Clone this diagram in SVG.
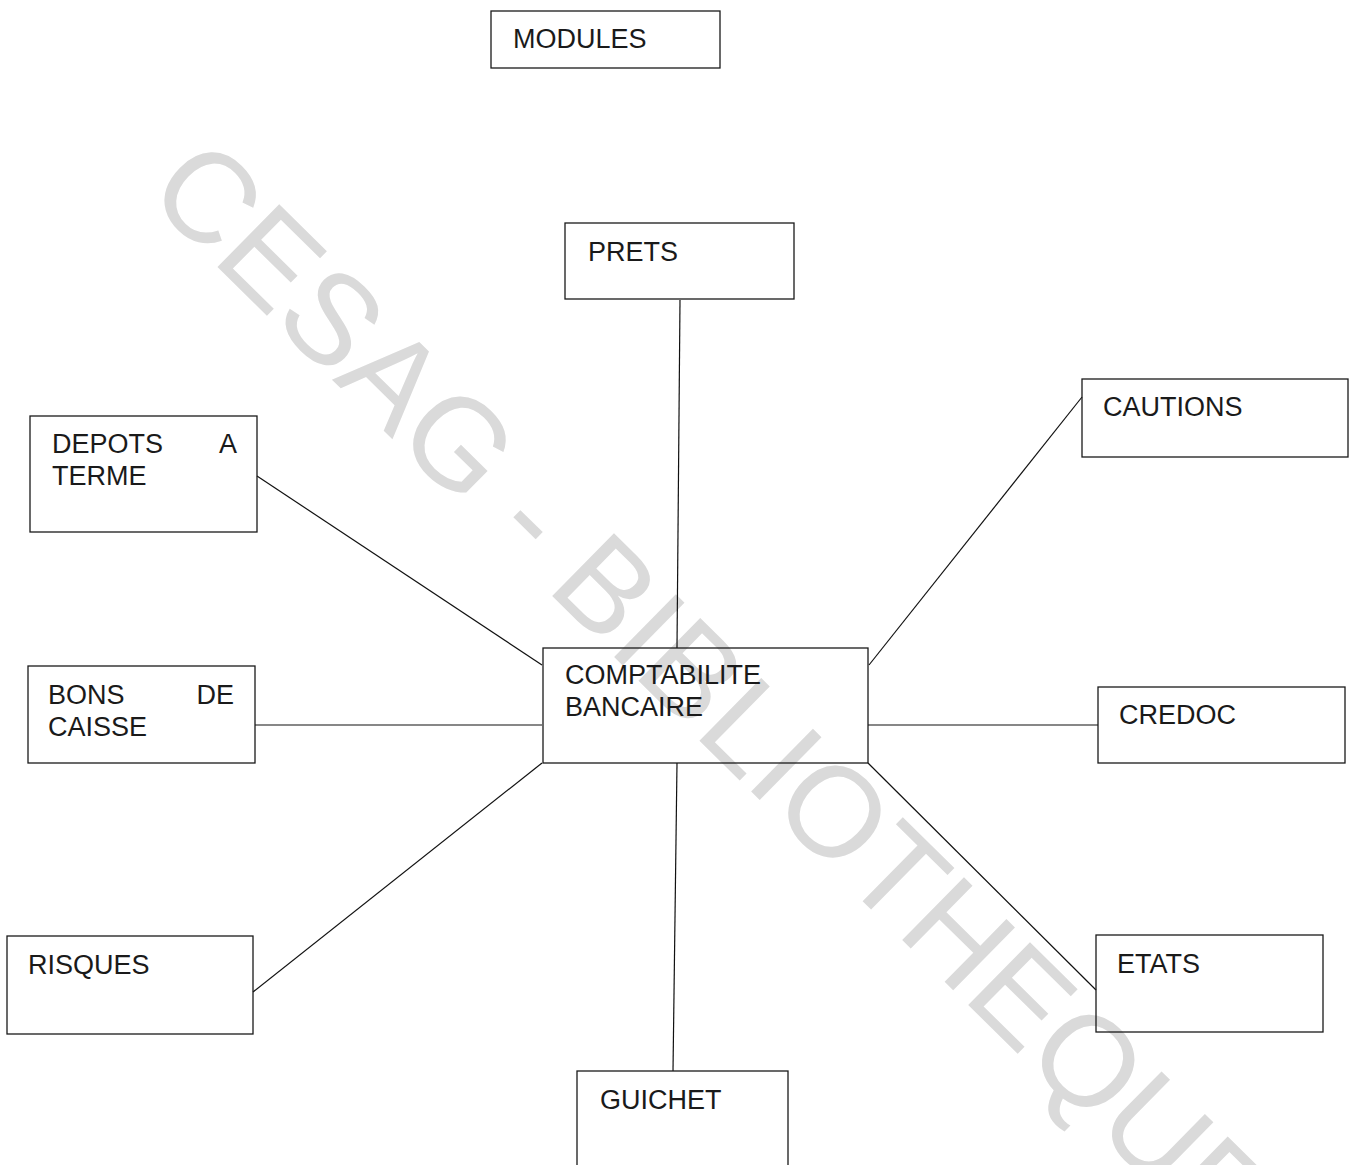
<svg xmlns="http://www.w3.org/2000/svg" width="1356" height="1165" viewBox="0 0 1356 1165">
<style>
.box{fill:none;stroke:#1a1a1a;stroke-width:1.3}
.lbl{font-family:"Liberation Sans",Arial,sans-serif;font-size:27px;fill:#1a1a1a}
.edge{stroke:#111;stroke-width:1.2;fill:none}
.wm{font-family:"Liberation Sans",Arial,sans-serif;font-size:128px;fill:#dadada}
</style>
<rect width="1356" height="1165" fill="#fff"/>
<text class="wm" transform="translate(144,195) rotate(44.5)">CESAG - BIBLIOTHEQUE</text>
<g id="connectors">
<line class="edge" x1="680" y1="300" x2="677" y2="648"/>
<line class="edge" x1="1082" y1="397" x2="869" y2="665"/>
<line class="edge" x1="257" y1="476" x2="542" y2="665"/>
<line class="edge" x1="255" y1="725" x2="542" y2="725"/>
<line class="edge" x1="253" y1="992" x2="542" y2="763"/>
<line class="edge" x1="868" y1="725" x2="1098" y2="725"/>
<line class="edge" x1="868" y1="763" x2="1096" y2="990"/>
<line class="edge" x1="677" y1="763" x2="673" y2="1071"/>
</g>
<g id="modules"><rect class="box" x="491" y="11" width="229" height="57"/><text class="lbl" x="513" y="48">MODULES</text></g>
<g id="prets"><rect class="box" x="565" y="223" width="229" height="76"/><text class="lbl" x="588" y="261">PRETS</text></g>
<g id="cautions"><rect class="box" x="1082" y="379" width="266" height="78"/><text class="lbl" x="1103" y="416">CAUTIONS</text></g>
<g id="depots"><rect class="box" x="30" y="416" width="227" height="116"/><text class="lbl" x="52" y="453">DEPOTS</text><text class="lbl" x="237" y="453" text-anchor="end">A</text><text class="lbl" x="52" y="485">TERME</text></g>
<g id="comptabilite"><rect class="box" x="543" y="648" width="325" height="115"/><text class="lbl" x="565" y="684">COMPTABILITE</text><text class="lbl" x="565" y="716">BANCAIRE</text></g>
<g id="bons"><rect class="box" x="28" y="666" width="227" height="97"/><text class="lbl" x="48" y="704">BONS</text><text class="lbl" x="234" y="704" text-anchor="end">DE</text><text class="lbl" x="48" y="736">CAISSE</text></g>
<g id="credoc"><rect class="box" x="1098" y="687" width="247" height="76"/><text class="lbl" x="1119" y="724">CREDOC</text></g>
<g id="risques"><rect class="box" x="7" y="936" width="246" height="98"/><text class="lbl" x="28" y="974">RISQUES</text></g>
<g id="etats"><rect class="box" x="1096" y="935" width="227" height="97"/><text class="lbl" x="1117" y="973">ETATS</text></g>
<g id="guichet"><rect class="box" x="577" y="1071" width="211" height="110"/><text class="lbl" x="600" y="1109">GUICHET</text></g>
</svg>
